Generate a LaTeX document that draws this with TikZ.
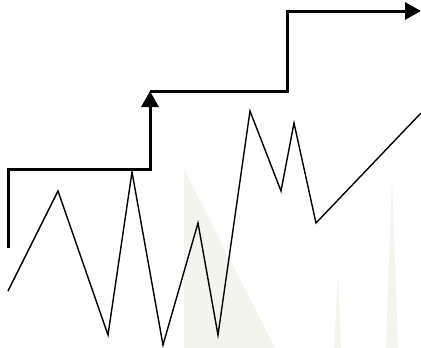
\documentclass[tikz,border=0pt]{standalone}
\usetikzlibrary{arrows.meta}
\definecolor{faint}{HTML}{F4F4EF}

\begin{document}
\begin{tikzpicture}[x=1pt,y=-1pt,
  stepline/.style={line width=3pt,-{Triangle[width=17pt,length=16pt]}},
  zigline/.style={line width=1.4pt}]
\useasboundingbox (0,0) rectangle (421,348);
\fill[faint] (184,169) -- (184,348) -- (275,348) -- cycle;
\fill[faint] (338,273) -- (341,348) -- (334,348) -- cycle;
\fill[faint] (392,175) -- (398,348) -- (386,348) -- cycle;
\coordinate (start) at (8,248);
\coordinate (mid) at (150,91);
\coordinate (top) at (287,11);
\coordinate (end) at (421,11);
\draw[stepline] (start) |- (150,169) -- (mid);
\draw[stepline] (mid) -| (top) -- (end);
\draw[zigline] (8,291) -- (58,191) -- (108,335) -- (132,172) -- (163,345)
  -- (198,223) -- (218,335) -- (250,111) -- (281,191) -- (294,123)
  -- (316,223) -- (421,113);
\end{tikzpicture}
\end{document}
